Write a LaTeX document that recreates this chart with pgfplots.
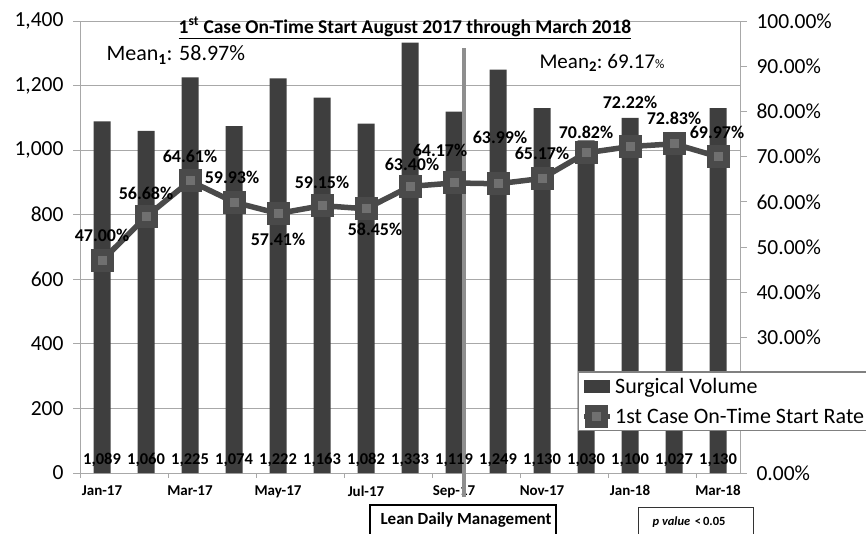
\documentclass[border=0pt]{standalone}
\usepackage{fontspec}
\setmainfont{Carlito}
\usepackage{pgfplots}
\pgfplotsset{compat=1.18}
\usepackage{pgfplotstable}

\definecolor{bargray}{HTML}{3E3E3E}
\definecolor{lingray}{HTML}{4A4A4A}
\definecolor{mkfill}{HTML}{707070}
\definecolor{gridgray}{HTML}{A8A8A8}
\definecolor{sepgray}{HTML}{8E8E8E}

% rounded square marker
\pgfdeclareplotmark{rsq}{%
  \pgfsetcornersarced{\pgfpoint{3pt}{3pt}}%
  \pgfpathmoveto{\pgfpoint{-\pgfplotmarksize}{0pt}}%
  \pgfpathlineto{\pgfpoint{-\pgfplotmarksize}{-\pgfplotmarksize}}%
  \pgfpathlineto{\pgfpoint{\pgfplotmarksize}{-\pgfplotmarksize}}%
  \pgfpathlineto{\pgfpoint{\pgfplotmarksize}{\pgfplotmarksize}}%
  \pgfpathlineto{\pgfpoint{-\pgfplotmarksize}{\pgfplotmarksize}}%
  \pgfpathclose
  \pgfusepathqfillstroke}

\pgfplotsset{/pgf/number format/assume math mode=true}

% month index, surgical volume, on-time rate (%), label offsets in px
\pgfplotstableread{
x vol rate dx dy
0 1089 47.00 0 25
1 1060 56.68 0 23
2 1225 64.61 0 25
3 1074 59.93 -2 25
4 1222 57.41 0 -26
5 1163 59.15 0 23
6 1082 58.45 9 -21
7 1333 63.40 2 22
8 1119 64.17 -14 33
9 1249 63.99 2 46
10 1130 65.17 0 25
11 1030 70.82 0 21
12 1100 72.22 0 44
13 1027 72.83 0 25
14 1130 69.97 -1 24
}\data

\begin{document}
\begin{tikzpicture}
\path[use as bounding box] (0pt,0pt) rectangle (866pt,533pt);

\begin{axis}[
  at={(80pt,60pt)}, anchor=south west,
  scale only axis, width=660pt, height=452pt,
  xmin=-0.5, xmax=14.5, ymin=0, ymax=1400,
  clip=false,
  axis x line*=bottom, axis y line*=left,
  axis line style={draw=gridgray, line width=1pt},
  ytick={0,200,...,1400},
  ymajorgrids, grid style={gridgray, line width=0.8pt},
  tick align=outside, major tick length=7pt,
  ytick style={draw=gridgray, line width=0.8pt},
  xtick={0,2,...,14},
  xticklabels={Jan-17,Mar-17,May-17,Jul-17,Sep-17,Nov-17,Jan-18,Mar-18},
  xtick style={draw=none},
  extra x ticks={-0.5,1.5,...,13.5},
  extra x tick labels={},
  extra x tick style={grid=none, xtick style={draw=gridgray, line width=0.8pt}, major tick length=5pt},
  /pgf/number format/1000 sep={,},
  yticklabel style={font=\fontsize{21.5}{24}\selectfont, xshift=-6pt},
  xticklabel style={font=\bfseries\fontsize{15}{18}\selectfont, yshift=-2pt},
]
\addplot[ybar, bar width=17pt, fill=bargray, draw=none] table[x=x, y=vol] {\data};
\addplot[only marks, mark=none, nodes near coords, point meta=explicit,
  nodes near coords style={font=\bfseries\fontsize{16.5}{19}\selectfont, anchor=center, yshift=13pt, text=black}]
  table[x=x, y expr=0, meta=vol] {\data};
\draw[sepgray, line width=4pt] (axis cs:8.23,1315) -- (axis cs:8.23,-75);
\end{axis}

\begin{axis}[
  at={(80pt,60pt)}, anchor=south west,
  scale only axis, width=660pt, height=452pt,
  xmin=-0.5, xmax=14.5, ymin=0, ymax=100,
  clip=false,
  axis x line=none, axis y line*=right,
  axis line style={draw=gridgray, line width=1pt},
  ytick={0,30,40,...,100},
  tick align=outside, major tick length=7pt,
  ytick style={draw=gridgray, line width=0.8pt},
  yticklabel={\pgfmathprintnumber[fixed,fixed zerofill,precision=2]{\tick}\%},
  yticklabel style={font=\fontsize{21.5}{24}\selectfont, xshift=6pt},
  legend cell align=left,
  legend style={at={(0.7545,0.2247)}, anchor=north west, draw=gray, line width=1.5pt,
    fill=white, font=\fontsize{22}{25}\selectfont, row sep=9pt, inner sep=2pt,
    inner xsep=3pt, inner ysep=4pt},
]
\addlegendimage{legend image code/.code={\fill[bargray] (0pt,-5.5pt) rectangle (25pt,5.5pt);}}
\addlegendentry{Surgical Volume}
\addplot[lingray, line width=5.5pt, mark=rsq, mark size=8pt,
  mark options={fill=mkfill, draw=lingray, line width=7pt},
  legend image code/.code={\draw[lingray, line width=5.5pt, mark=rsq, mark size=8pt,
      mark options={fill=mkfill, draw=lingray, line width=7pt}, mark repeat=2, mark phase=2]
      plot coordinates {(0pt,0pt) (12pt,0pt) (26pt,0pt)};}]
  table[x=x, y=rate] {\data};
\addlegendentry{1st Case On-Time Start Rate}
% data labels, offset from each point by dx, dy pixels
\addplot[forget plot, only marks, mark=none, point meta=explicit,
  nodes near coords={\pgfmathprintnumber[fixed,fixed zerofill,precision=2]{\pgfplotspointmeta}\%},
  nodes near coords style={font=\bfseries\fontsize{18}{21}\selectfont, text=black, anchor=center}]
  table[x expr=\thisrow{x}+\thisrow{dx}/44, y expr=\thisrow{rate}+\thisrow{dy}/4.52, meta=rate] {\data};
\end{axis}

% title and annotations
\node[font=\bfseries\fontsize{19.5}{22}\selectfont] at (405pt,505pt)
  {\underline{1\textsuperscript{st} Case On-Time Start August 2017 through March 2018}};
\node[anchor=west, font=\fontsize{22}{26}\selectfont] at (103pt,478pt)
  {Mean\textsubscript{\textbf{1}}: 58.97\%};
\node[anchor=west, font=\fontsize{21}{25}\selectfont] at (536pt,470pt)
  {Mean\textsubscript{\textbf{2}}:\ 69.17{\fontsize{13}{15}\selectfont\%}};

\draw[line width=2pt] (370pt,-10pt) rectangle (556pt,28pt);
\node[font=\bfseries\fontsize{17}{20}\selectfont] at (466pt,13pt) {Lean Daily Management};
\draw[line width=1pt, black!80] (638pt,-10pt) rectangle (753pt,26pt);
\node at (689pt,11pt) {{\bfseries\itshape\fontsize{12.5}{14}\selectfont p value}\ \ {\bfseries\fontsize{12.5}{14}\selectfont <\,0.05}};
\end{tikzpicture}
\end{document}
